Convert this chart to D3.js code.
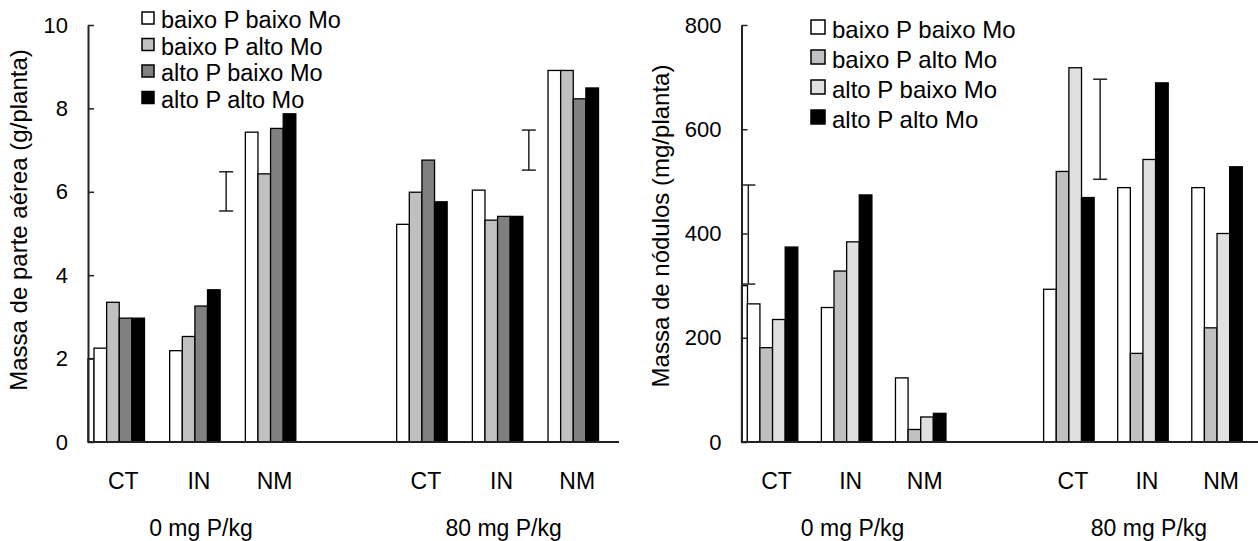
<!DOCTYPE html>
<html>
<head>
<meta charset="utf-8">
<script src="https://cdn.jsdelivr.net/npm/d3@7"></script>
<style>
  body { margin: 0; background: #fff; }
  svg { display: block; }
  text { font-family: Arial, "Liberation Sans", sans-serif; fill: #000; }
</style>
</head>
<body>
<svg width="1258" height="541"></svg>
<script>
var svg = d3.select('svg');

// categories (empty slot between the two P doses)
var groups = ["CT", "IN", "NM", "", "CT", "IN", "NM"];
var doseLabels = ["0 mg P/kg", "80 mg P/kg"];
var seriesNames = ["baixo P baixo Mo", "baixo P alto Mo", "alto P baixo Mo", "alto P alto Mo"];

// massa de parte aerea (g/planta)
var aereaBPBM = [2.25, 2.19, 7.43, null, 5.22, 6.04, 8.91];
var aereaBPAM = [3.35, 2.53, 6.43, null, 5.99, 5.32, 8.91];
var aereaAPBM = [2.97, 3.26, 7.52, null, 6.76, 5.41, 8.23];
var aereaAPAM = [2.97, 3.65, 7.87, null, 5.76, 5.41, 8.49];
var aereaTicks = [0, 2, 4, 6, 8, 10];
var aereaLSD = [{group: 1, lo: 5.54, hi: 6.48, at: 'end'}, {group: 5, lo: 6.52, hi: 7.48, at: 'end'}];
var aereaStub = 2.0;

// massa de nodulos (mg/planta)
var nodBPBM = [265, 258, 123, null, 293, 488, 488];
var nodBPAM = [181, 328, 24, null, 519, 170, 219];
var nodAPBM = [235, 384, 48, null, 718, 542, 400];
var nodAPAM = [374, 474, 55, null, 469, 689, 528];
var nodTicks = [0, 200, 400, 600, 800];
var nodLSD = [{group: 0, lo: 303, hi: 493, at: 'start'}, {group: 4, lo: 504, hi: 696, at: 'end'}];
var nodStub = 300;

function drawChart(cfg) {
  var g = svg.append('g');
  var x = d3.scaleBand().domain(d3.range(groups.length))
    .range([cfg.x0, cfg.x1]).paddingInner(cfg.pad).paddingOuter(0);
  var xs = d3.scaleBand().domain(d3.range(4)).range([0, x.bandwidth()]);
  var y = d3.scaleLinear().domain([0, cfg.max]).range([442, 25]);

  // partly hidden bar against the axis
  g.append('rect')
    .attr('x', cfg.axisX).attr('y', y(cfg.stub))
    .attr('width', 6).attr('height', y(0) - y(cfg.stub))
    .attr('fill', '#fff').attr('stroke', '#000').attr('stroke-width', 1.3);

  cfg.series.forEach(function(vals, s) {
    g.selectAll('.bar' + s)
      .data(vals.map(function(v, i) { return {v: v, i: i}; }).filter(function(d) { return d.v != null; }))
      .enter().append('rect')
      .attr('x', function(d) { return x(d.i) + xs(s); })
      .attr('y', function(d) { return y(d.v); })
      .attr('width', xs.bandwidth())
      .attr('height', function(d) { return y(0) - y(d.v); })
      .attr('fill', cfg.colors[s])
      .attr('stroke', '#000')
      .attr('stroke-width', 1.3);
  });

  // error bars (LSD)
  cfg.lsd.forEach(function(e) {
    var ex = e.at == 'start' ? x(e.group) + 1 : x(e.group) + x.bandwidth() + 6;
    g.append('line').attr('x1', ex).attr('x2', ex).attr('y1', y(e.lo)).attr('y2', y(e.hi))
      .attr('stroke', '#222').attr('stroke-width', 1.5);
    [e.lo, e.hi].forEach(function(v) {
      g.append('line').attr('x1', ex - 7).attr('x2', ex + 7).attr('y1', y(v)).attr('y2', y(v))
        .attr('stroke', '#222').attr('stroke-width', 1.5);
    });
  });

  // baseline
  g.append('line').attr('x1', cfg.axisX).attr('x2', cfg.baseEnd)
    .attr('y1', y(0)).attr('y2', y(0))
    .attr('stroke', '#222').attr('stroke-width', 2);

  var axis = g.append('g').attr('transform', 'translate(' + cfg.axisX + ',0)')
    .call(d3.axisLeft(y).tickValues(cfg.ticks).tickSizeInner(-6).tickSizeOuter(0).tickPadding(20));
  axis.select('.domain').attr('stroke', '#222').attr('stroke-width', 2);
  axis.selectAll('.tick line').attr('stroke', '#222').attr('stroke-width', 1.5);
  axis.selectAll('.tick text').style('font-size', '22px').attr('font-family', null).attr('fill', '#000');
  axis.attr('font-family', null);

  // category labels
  g.selectAll('.cat').data(groups).enter().append('text')
    .attr('x', function(d, i) { return x(i) + x.bandwidth() / 2 + 4; })
    .attr('y', 489)
    .attr('text-anchor', 'middle')
    .style('font-size', '23px')
    .text(function(d) { return d; });

  doseLabels.forEach(function(t, k) {
    var c = k == 0 ? (x(0) + x(2) + x.bandwidth()) / 2 : (x(4) + x(6) + x.bandwidth()) / 2;
    g.append('text').attr('x', c + 6).attr('y', 536)
      .attr('text-anchor', 'middle').style('font-size', '23px').text(t);
  });

  // y title
  g.append('text')
    .attr('transform', 'translate(' + cfg.titleX + ',' + cfg.titleY + ') rotate(-90)')
    .attr('text-anchor', 'middle')
    .style('font-size', '24px')
    .text(cfg.title);

  // legend
  seriesNames.forEach(function(name, s) {
    var ly = cfg.legY + s * cfg.legStep;
    g.append('rect').attr('x', cfg.legX).attr('y', ly)
      .attr('width', cfg.legBox).attr('height', cfg.legBox)
      .attr('fill', cfg.colors[s]).attr('stroke', '#000').attr('stroke-width', 1.5);
    g.append('text').attr('x', cfg.legX + cfg.legBox + 7).attr('y', ly + cfg.legBox + 4)
      .style('font-size', cfg.legFont + 'px').text(name);
  });
}

drawChart({
  series: [aereaBPBM, aereaBPAM, aereaAPBM, aereaAPAM],
  colors: ['#ffffff', '#c0c0c0', '#808080', '#000000'],
  max: 10, ticks: aereaTicks, lsd: aereaLSD, stub: aereaStub,
  axisX: 88, x0: 94, x1: 598.5, pad: 0.333, baseEnd: 619,
  title: 'Massa de parte aérea (g/planta)', titleX: 27, titleY: 220,
  legX: 142, legY: 12, legStep: 26.5, legBox: 12, legFont: 23.5
});

drawChart({
  series: [nodBPBM, nodBPAM, nodAPBM, nodAPAM],
  colors: ['#ffffff', '#c0c0c0', '#e0e0e0', '#000000'],
  max: 800, ticks: nodTicks, lsd: nodLSD, stub: nodStub,
  axisX: 741.5, x0: 747.3, x1: 1242.3, pad: 0.318, baseEnd: 1258,
  title: 'Massa de nódulos (mg/planta)', titleX: 669, titleY: 226,
  legX: 811, legY: 20, legStep: 30, legBox: 14, legFont: 24
});
</script>
</body>
</html>
